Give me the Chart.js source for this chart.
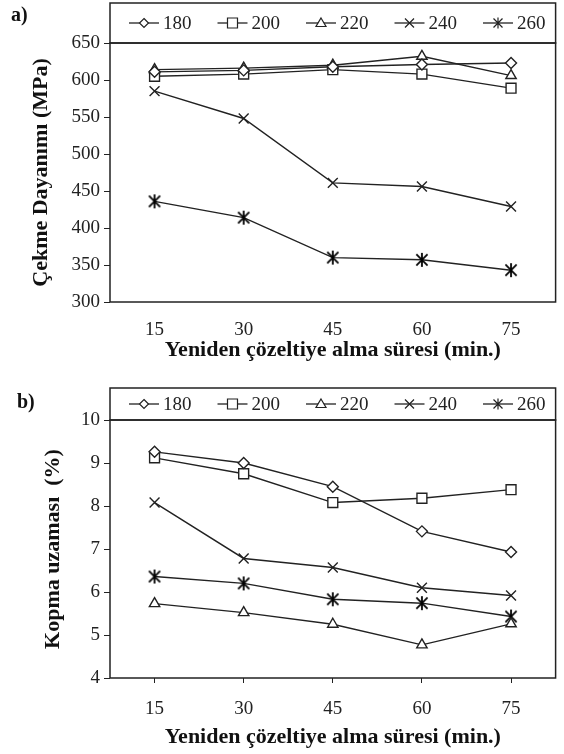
<!DOCTYPE html>
<html>
<head>
<meta charset="utf-8">
<script src="https://cdn.jsdelivr.net/npm/chart.js@4/dist/chart.umd.min.js"></script>
<style>
  body { margin: 0; background: #fff; }
  #wrap { position: relative; width: 564px; height: 754px; }
  .box { position: absolute; left: 0; width: 564px; }
  .tag { position: absolute; font: bold 20px "Liberation Serif", serif; color: #111; }
</style>
</head>
<body>
<div id="wrap">
  <div class="box" style="top:0;height:372px"><canvas id="chartA"></canvas></div>
  <div class="box" style="top:376px;height:378px"><canvas id="chartB"></canvas></div>
  <div class="tag" style="left:11px;top:3px">a)</div>
  <div class="tag" style="left:17px;top:390px">b)</div>
</div>
<script>
// x axis: solution treatment time (min.)
const times = ['15', '30', '45', '60', '75'];
const temps = ['180', '200', '220', '240', '260'];

// a) tensile strength (MPa)
const strength180 = [611, 613, 618, 621, 623];
const strength200 = [605, 608, 614, 608, 589];
const strength220 = [614, 616, 620, 632, 606];
const strength240 = [585, 548, 461, 456, 429];
const strength260 = [436, 414, 360, 357, 343];

// b) elongation (%)
const elong180 = [9.26, 9.0, 8.45, 7.41, 6.93];
const elong200 = [9.12, 8.75, 8.08, 8.18, 8.38];
const elong220 = [5.73, 5.52, 5.25, 4.77, 5.26];
const elong240 = [8.08, 6.78, 6.57, 6.1, 5.92];
const elong260 = [6.36, 6.2, 5.83, 5.74, 5.43];

const ink = '#222';
const serif = '"Liberation Serif", "Times New Roman", serif';

// asterisk marker: vertical bar plus an x
function makeStar(r) {
  const c = document.createElement('canvas');
  c.width = c.height = r * 2 + 2;
  const g = c.getContext('2d');
  const m = r + 1;
  g.strokeStyle = '#000';
  g.lineWidth = 1.8;
  g.beginPath();
  g.moveTo(m, m - r); g.lineTo(m, m + r);
  g.moveTo(m - r * 0.8, m - r * 0.8); g.lineTo(m + r * 0.8, m + r * 0.8);
  g.moveTo(m + r * 0.8, m - r * 0.8); g.lineTo(m - r * 0.8, m + r * 0.8);
  g.stroke();
  return c;
}

const styles = [
  { pointStyle: 'rectRot', pointRadius: 5.5 },
  { pointStyle: 'rect', pointRadius: 7 },
  { pointStyle: 'triangle', pointRadius: 6 },
  { pointStyle: 'crossRot', pointRadius: 7 },
  { pointStyle: makeStar(7), pointRadius: 7 }
];

function buildSets(series) {
  return series.map((vals, i) => ({
    label: temps[i],
    data: vals,
    borderColor: ink,
    borderWidth: 1.4,
    pointBackgroundColor: '#fff',
    pointBorderColor: ink,
    pointBorderWidth: 1.4,
    pointStyle: styles[i].pointStyle,
    pointRadius: styles[i].pointRadius,
    tension: 0
  }));
}

// small marker for the legend
function legendMarker(ctx, i, x, y) {
  const r = 4.5;
  ctx.save();
  ctx.strokeStyle = ink;
  ctx.fillStyle = '#fff';
  ctx.lineWidth = 1.2;
  ctx.beginPath();
  if (i === 0) {
    ctx.moveTo(x, y - r); ctx.lineTo(x + r, y); ctx.lineTo(x, y + r); ctx.lineTo(x - r, y); ctx.closePath();
    ctx.fill(); ctx.stroke();
  } else if (i === 1) {
    ctx.rect(x - 5, y - 5, 10, 10); ctx.fill(); ctx.stroke();
  } else if (i === 2) {
    ctx.moveTo(x, y - 5); ctx.lineTo(x + 5, y + 3.5); ctx.lineTo(x - 5, y + 3.5); ctx.closePath();
    ctx.fill(); ctx.stroke();
  } else if (i === 3) {
    ctx.moveTo(x - r, y - r); ctx.lineTo(x + r, y + r);
    ctx.moveTo(x + r, y - r); ctx.lineTo(x - r, y + r); ctx.stroke();
  } else {
    ctx.moveTo(x, y - r - 1); ctx.lineTo(x, y + r + 1);
    ctx.moveTo(x - r, y - r); ctx.lineTo(x + r, y + r);
    ctx.moveTo(x + r, y - r); ctx.lineTo(x - r, y + r); ctx.stroke();
  }
  ctx.restore();
}

// frame round the plot plus the boxed legend above it
const framePlugin = {
  id: 'frame',
  afterDraw(chart, args, opts) {
    const { ctx, chartArea: a } = chart;
    ctx.save();
    ctx.strokeStyle = ink;
    ctx.lineWidth = 1.5;
    ctx.strokeRect(a.left, a.top, a.right - a.left, a.bottom - a.top);
    const top = a.top - opts.legendHeight;
    ctx.strokeRect(a.left, top, a.right - a.left, opts.legendHeight);
    const cy = top + opts.legendHeight / 2;
    ctx.font = '19px ' + serif;
    ctx.fillStyle = ink;
    ctx.textBaseline = 'middle';
    chart.data.datasets.forEach((ds, i) => {
      const x0 = a.left + 19 + i * 88.5;
      ctx.beginPath();
      ctx.lineWidth = 1.3;
      ctx.moveTo(x0, cy); ctx.lineTo(x0 + 30, cy);
      ctx.stroke();
      legendMarker(ctx, i, x0 + 15, cy);
      ctx.fillText(ds.label, x0 + 34, cy + 1);
    });
    ctx.restore();
  }
};

function makeChart(id, series, yMin, yMax, step, yTitle, o) {
  return new Chart(document.getElementById(id), {
    type: 'line',
    data: { labels: times, datasets: buildSets(series) },
    plugins: [framePlugin],
    options: {
      responsive: true,
      maintainAspectRatio: false,
      animation: false,
      layout: { padding: { top: o.top, right: 4, left: 0, bottom: 0 } },
      plugins: {
        legend: { display: false },
        tooltip: { enabled: false },
        frame: { legendHeight: o.legendHeight }
      },
      scales: {
        x: {
          offset: true,
          grid: { display: o.xTicks, drawOnChartArea: false, offset: false, tickLength: 5, color: ink },
          border: { display: false },
          ticks: { color: ink, padding: o.xPad, font: { family: serif, size: 19 } },
          title: { display: true, text: 'Yeniden çözeltiye alma süresi (min.)', color: '#111',
                   font: { family: serif, size: 22, weight: 'bold' }, padding: { top: 0, bottom: o.titleBottom } },
          afterFit: s => { s.height = o.xHeight; }
        },
        y: {
          min: yMin, max: yMax,
          grid: { drawOnChartArea: false, tickLength: 6, color: ink },
          border: { display: false },
          ticks: { stepSize: step, color: ink, padding: 4, font: { family: serif, size: 19 } },
          title: { display: true, text: yTitle, color: '#111',
                   font: { family: serif, size: o.yTitleSize, weight: 'bold' }, padding: { top: o.yTitlePad, bottom: 0 } },
          afterFit: s => { s.width = 110; }
        }
      }
    }
  });
}

makeChart('chartA', [strength180, strength200, strength220, strength240, strength260],
  300, 650, 50, 'Çekme Dayanımı (MPa)',
  { top: 43, legendHeight: 40, xTicks: false, xPad: 12, xHeight: 70, titleBottom: 8, yTitlePad: 28, yTitleSize: 22 });

makeChart('chartB', [elong180, elong200, elong220, elong240, elong260],
  4, 10, 1, 'Kopma uzaması  (%)',
  { top: 44, legendHeight: 32, xTicks: true, xPad: 15, xHeight: 76, titleBottom: 3, yTitlePad: 40, yTitleSize: 22 });
</script>
</body>
</html>
